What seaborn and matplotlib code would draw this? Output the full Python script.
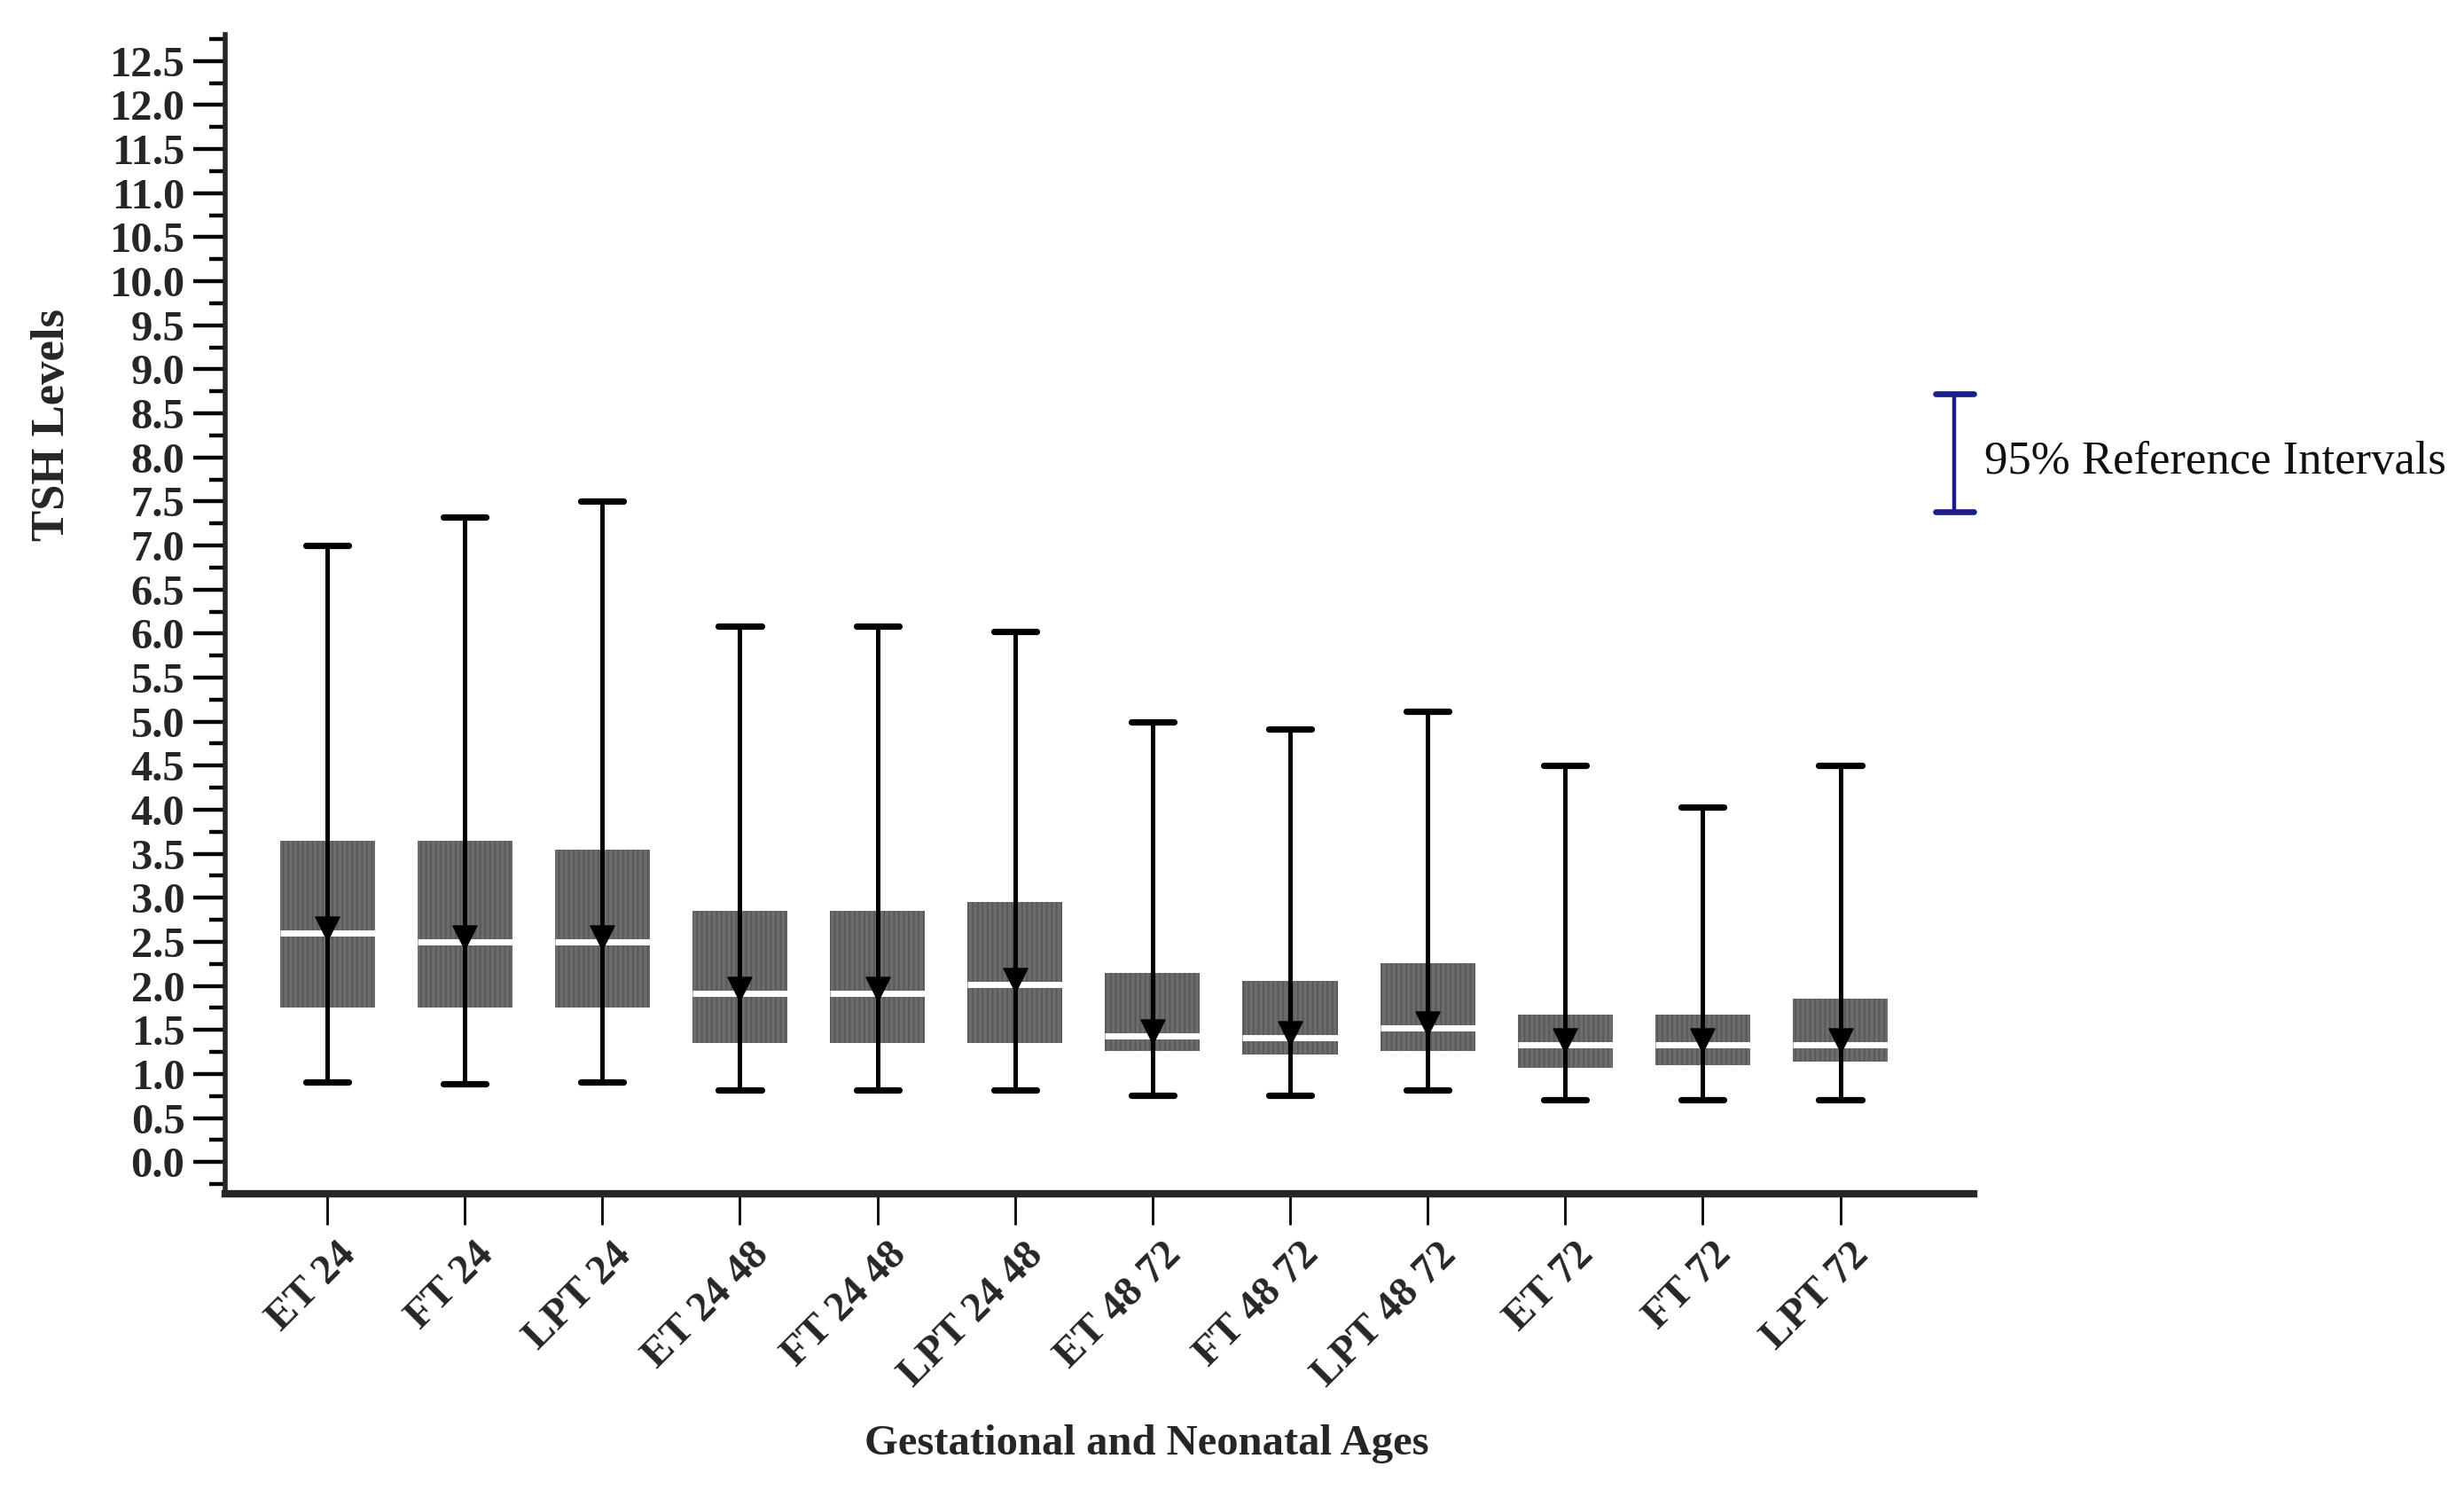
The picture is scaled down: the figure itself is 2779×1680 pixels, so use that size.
import matplotlib
matplotlib.use("Agg")
import matplotlib.pyplot as plt
import matplotlib.transforms as mtransforms
from matplotlib.ticker import MultipleLocator, FormatStrFormatter
import seaborn as sns
import pandas as pd

# groups (gestational age + neonatal age in hours)
groups = ["ET 24", "FT 24", "LPT 24", "ET 24 48", "FT 24 48", "LPT 24 48",
          "ET 48 72", "FT 48 72", "LPT 48 72", "ET 72", "FT 72", "LPT 72"]

# 95% reference interval limits (whiskers)
upper = [7.00, 7.32, 7.50, 6.08, 6.08, 6.02, 5.00, 4.92, 5.12, 4.50, 4.03, 4.50]
lower = [0.91, 0.89, 0.91, 0.82, 0.82, 0.82, 0.76, 0.76, 0.82, 0.71, 0.71, 0.71]
# interquartile range and median
q3 = [3.65, 3.65, 3.55, 2.85, 2.85, 2.95, 2.15, 2.06, 2.26, 1.67, 1.67, 1.86]
q1 = [1.75, 1.75, 1.75, 1.35, 1.35, 1.35, 1.26, 1.22, 1.26, 1.07, 1.10, 1.14]
medians = [2.60, 2.50, 2.50, 1.92, 1.92, 2.02, 1.43, 1.41, 1.52, 1.33, 1.33, 1.33]
# triangle markers
means = [2.65, 2.55, 2.55, 1.97, 1.97, 2.07, 1.48, 1.46, 1.57, 1.38, 1.38, 1.38]

df = pd.DataFrame({"group": groups, "upper": upper, "lower": lower,
                   "q1": q1, "q3": q3, "med": medians, "mean": means})
df["pos"] = range(len(df))

sns.set_theme(style="ticks")
plt.rcParams["font.family"] = ["Liberation Serif", "DejaVu Serif"]
plt.rcParams["hatch.color"] = "#575757"
plt.rcParams["hatch.linewidth"] = 0.6

fig = plt.figure(figsize=(13.895, 8.4), dpi=200)
ax = fig.add_axes([0.0915, 0.1988, 0.7095, 0.7780])

stats = [dict(label=r.group, whislo=r.lower, q1=r.q1, med=r.med, q3=r.q3, whishi=r.upper)
         for r in df.itertuples()]

ax.bxp(stats, positions=df["pos"], widths=0.69, patch_artist=True, showfliers=False,
       capwidths=0.31,
       boxprops=dict(facecolor="#6b6b6b", edgecolor="#575757", hatch="||||||", linewidth=0),
       whiskerprops=dict(color="black", linewidth=1.8),
       capprops=dict(color="black", linewidth=2.6),
       medianprops=dict(color="white", linewidth=2.5))

# black reference-interval line drawn through the box
ax.vlines(df["pos"], df["lower"], df["upper"], color="black", linewidth=1.8, zorder=4)

sns.scatterplot(data=df, x="pos", y="mean", marker="v", s=95, color="black",
                edgecolor="black", linewidth=0.5, ax=ax, zorder=5, legend=False)

ax.set_xlim(-0.74, 11.97)
ax.set_ylim(-0.36, 12.8)
ax.yaxis.set_major_locator(MultipleLocator(0.5))
ax.yaxis.set_minor_locator(MultipleLocator(0.25))
ax.yaxis.set_major_formatter(FormatStrFormatter("%.1f"))
ax.set_xticks(df["pos"])
ax.set_xticklabels(df["group"])

sns.despine(ax=ax)
ax.spines["left"].set_linewidth(2.0)
ax.spines["bottom"].set_linewidth(3.0)

ax.tick_params(axis="y", which="major", length=13, width=1.6, pad=3.5,
               labelsize=17.5, color="black")
ax.tick_params(axis="y", which="minor", length=6.5, width=1.6, color="black")
ax.tick_params(axis="x", which="major", length=12.6, width=1.0, pad=10,
               labelsize=17, color="black")
for lab in ax.get_yticklabels():
    lab.set_fontweight("bold")
offset = mtransforms.ScaledTranslation(26 / 200, 0, fig.dpi_scale_trans)
for lab in ax.get_xticklabels():
    lab.set_fontweight("bold")
    lab.set_rotation(45)
    lab.set_ha("right")
    lab.set_va("center")
    lab.set_rotation_mode("anchor")
    lab.set_transform(lab.get_transform() + offset)

ax.set_xlabel("Gestational and Neonatal Ages", fontsize=17.5, fontweight="bold")
ax.set_ylabel("TSH Levels", fontsize=19, fontweight="bold")
ax.xaxis.set_label_coords(0.527, -0.199)
ax.yaxis.set_label_coords(-0.087, 0.663)

# legend: 95% reference interval symbol
navy = "#1c1c8c"
lx, ly0, ly1, cw = 0.989, 0.588, 0.690, 0.0108
ax.plot([lx, lx], [ly0, ly1], color=navy, lw=1.6, transform=ax.transAxes, clip_on=False)
ax.plot([lx - cw, lx + cw], [ly1, ly1], color=navy, lw=2.4, transform=ax.transAxes, clip_on=False)
ax.plot([lx - cw, lx + cw], [ly0, ly0], color=navy, lw=2.4, transform=ax.transAxes, clip_on=False)
ax.text(1.006, 0.631, "95% Reference Intervals", transform=ax.transAxes,
        fontsize=19, va="center", ha="left", color="#111111")

fig.savefig("out.png", dpi=200, facecolor="white")
